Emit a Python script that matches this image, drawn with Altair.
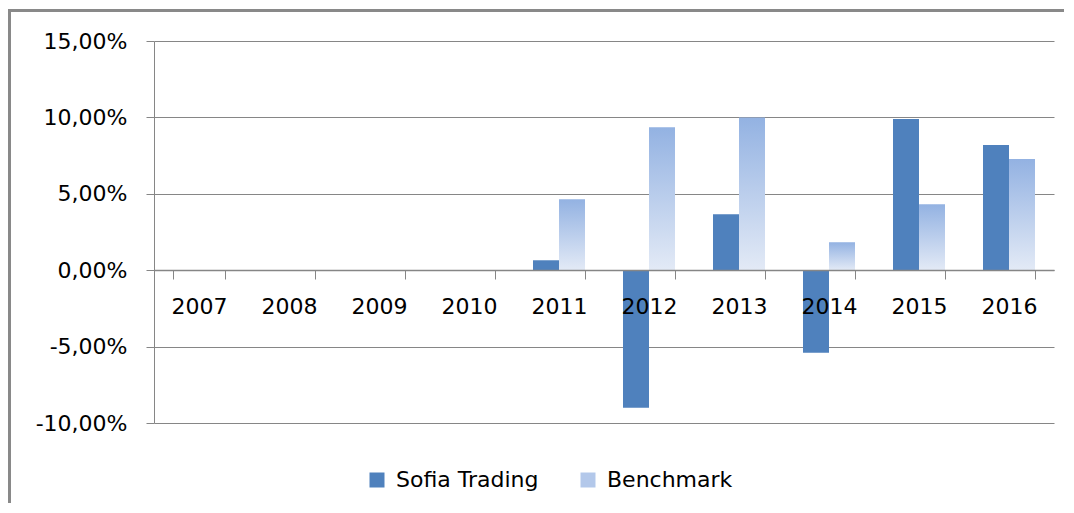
import altair as alt
import pandas as pd

years = ["2007", "2008", "2009", "2010", "2011", "2012", "2013", "2014", "2015", "2016"]
sofia = [None, None, None, None, 0.0065, -0.0900, 0.0366, -0.0541, 0.0989, 0.0819]
bench = [None, None, None, None, 0.0464, 0.0935, 0.1000, 0.0183, 0.0432, 0.0727]
series = ["Sofia Trading", "Benchmark"]
y_ticks = [-0.10, -0.05, 0.0, 0.05, 0.10, 0.15]
title_text = "Rendimento annuo del fondo"

rows = []
for yr, s, b in zip(years, sofia, bench):
    rows.append({"year": yr, "series": series[0], "value": s})
    rows.append({"year": yr, "series": series[1], "value": b})
df = pd.DataFrame(rows)

GRAY = "#868686"
FONT = "DejaVu Sans"

x_enc = alt.X(
    "year:N",
    scale=alt.Scale(domain=years, paddingInner=0.4222, paddingOuter=0.2111),
    axis=alt.Axis(
        title=None, orient="bottom", offset=-153, tickBand="extent",
        labelAngle=0, tickSize=9, labelPadding=17, domainWidth=1.5,
        domainColor=GRAY, tickColor=GRAY, labelFont=FONT, labelFontSize=22,
        labelColor="black", grid=False, zindex=1,
    ),
)
xo_enc = alt.XOffset("series:N", scale=alt.Scale(domain=series, paddingInner=0, paddingOuter=0))
y_enc = alt.Y(
    "value:Q",
    scale=alt.Scale(domain=[-0.10, 0.15], nice=False, zero=True),
    axis=alt.Axis(
        title=None, values=y_ticks, tickSize=8, labelPadding=19,
        labelExpr="replace(replace(format(datum.value, '.2%'), '.', ','), '\u2212', '-')",
        domainColor=GRAY, tickColor=GRAY, gridColor=GRAY, gridWidth=1,
        labelFont=FONT, labelFontSize=22, labelColor="black",
    ),
)

sofia_layer = alt.Chart(df).transform_filter(
    alt.datum.series == series[0]
).mark_bar(color="#4F81BD").encode(
    x=x_enc, xOffset=xo_enc, y=y_enc,
    color=alt.Color(
        "series:N",
        scale=alt.Scale(domain=series, range=["#4F81BD", "#B3C8EA"]),
        legend=alt.Legend(
            title=None, orient="none", legendX=212, legendY=428,
            direction="horizontal", symbolType="square", symbolSize=225,
            symbolStrokeWidth=0, labelFont=FONT, labelFontSize=22,
            labelColor="black", columnPadding=38, labelOffset=8, padding=0,
        ),
    ),
)

bench_layer = alt.Chart(df).transform_filter(
    alt.datum.series == series[1]
).mark_bar(
    fill=alt.Gradient(
        gradient="linear",
        stops=[alt.GradientStop(color="#93B2E2", offset=0),
               alt.GradientStop(color="#E3EAF6", offset=1)],
        x1=0, x2=0, y1=0, y2=1,
    )
).encode(x=x_enc, xOffset=xo_enc, y=y_enc)

one = alt.Data(values=[{"k": 1}])
border_top = alt.Chart(one).mark_rule(color="#898989", strokeWidth=3).encode(
    x=alt.value(-146), x2=alt.value(920), y=alt.value(-30.5)
)
border_left = alt.Chart(one).mark_rule(color="#898989", strokeWidth=3).encode(
    x=alt.value(-144.5), y=alt.value(-32), y2=alt.value(520)
)
title = alt.Chart(one).mark_text(
    text=title_text, font="DejaVu Serif", fontWeight="bold", fontSize=22,
    baseline="alphabetic", align="center", color="black",
).encode(x=alt.value(392), y=alt.value(-37))

chart = alt.layer(bench_layer, sofia_layer, border_top, border_left, title).properties(
    width=900, height=382,
    autosize=alt.AutoSizeParams(type="none"),
    padding={"left": 146, "top": 33, "right": 10, "bottom": 80},
).configure_view(stroke=None)

chart.save("out.html", embed_options={"renderer": "svg", "actions": False})
